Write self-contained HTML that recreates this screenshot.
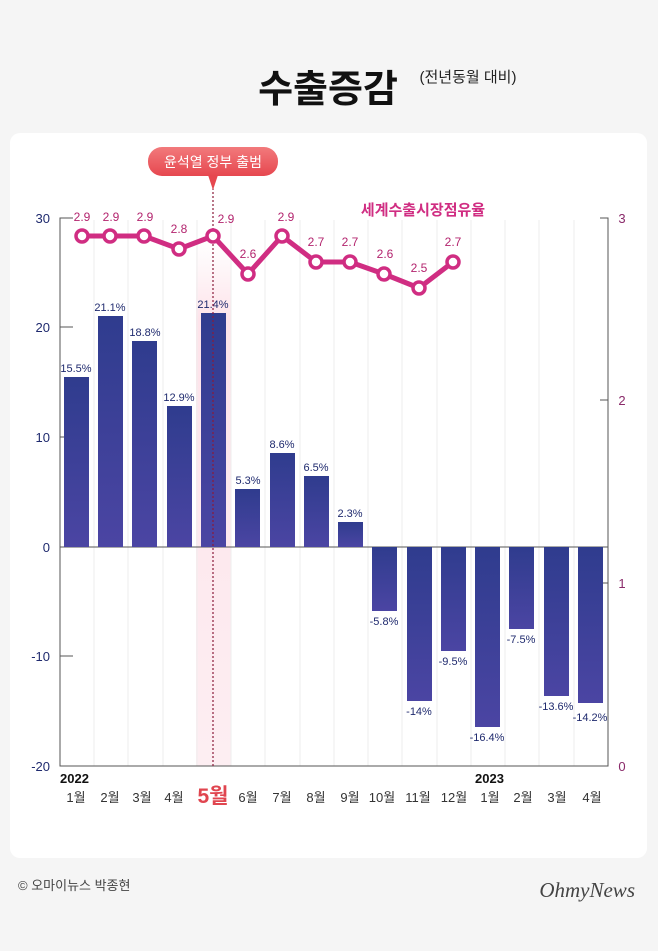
<!DOCTYPE html>
<html><head><meta charset="utf-8"><style>
body{margin:0;background:#f5f5f5;width:658px;height:946px;overflow:hidden;font-family:"Liberation Sans","Noto Sans CJK KR",sans-serif}
</style></head><body>
<svg width="658" height="946" viewBox="0 0 658 946" xmlns="http://www.w3.org/2000/svg" font-family="Liberation Sans, Noto Sans CJK KR, sans-serif">
<defs>
<linearGradient id="bg" x1="0" y1="0" x2="0" y2="1"><stop offset="0" stop-color="#2f3c8e"/><stop offset="1" stop-color="#4b45a3"/></linearGradient>
<linearGradient id="hl" x1="0" y1="0" x2="0" y2="1"><stop offset="0" stop-color="#fde8ee" stop-opacity="0"/><stop offset="0.15" stop-color="#fde3ea"/><stop offset="1" stop-color="#fdeef2"/></linearGradient>
<linearGradient id="tag" x1="0" y1="0" x2="0" y2="1"><stop offset="0" stop-color="#f27a7c"/><stop offset="1" stop-color="#e6474f"/></linearGradient>
</defs>
<rect width="658" height="946" fill="#f5f5f5"/>
<text x="328" y="102" text-anchor="middle" font-size="38" font-weight="bold" fill="#111">수출증감</text>
<text x="468" y="82" text-anchor="middle" font-size="15" fill="#222">(전년동월 대비)</text>
<rect x="10" y="133" width="637" height="725" rx="10" fill="#fff"/>
<rect x="196" y="240" width="35" height="526" fill="url(#hl)"/>
<g stroke="#eeeeee" stroke-width="1">
<line x1="94" y1="220" x2="94" y2="766"/><line x1="128" y1="220" x2="128" y2="766"/><line x1="163" y1="220" x2="163" y2="766"/><line x1="197" y1="220" x2="197" y2="766"/><line x1="231" y1="220" x2="231" y2="766"/><line x1="265" y1="220" x2="265" y2="766"/><line x1="300" y1="220" x2="300" y2="766"/><line x1="334" y1="220" x2="334" y2="766"/><line x1="368" y1="220" x2="368" y2="766"/><line x1="402" y1="220" x2="402" y2="766"/><line x1="437" y1="220" x2="437" y2="766"/><line x1="471" y1="220" x2="471" y2="766"/><line x1="505" y1="220" x2="505" y2="766"/><line x1="539" y1="220" x2="539" y2="766"/><line x1="574" y1="220" x2="574" y2="766"/>
</g>
<g stroke="#555" stroke-width="1" fill="none">
<path d="M73 218H60V766H608V218H600"/>
<line x1="60" y1="327" x2="73" y2="327"/><line x1="60" y1="437" x2="73" y2="437"/><line x1="60" y1="547" x2="608" y2="547"/><line x1="60" y1="656" x2="73" y2="656"/>
<line x1="600" y1="400" x2="608" y2="400"/><line x1="600" y1="583" x2="608" y2="583"/>
</g>
<g font-size="13" fill="#1f2a6e" text-anchor="end">
<text x="50" y="223">30</text><text x="50" y="332">20</text><text x="50" y="442">10</text><text x="50" y="552">0</text><text x="50" y="661">-10</text><text x="50" y="771">-20</text>
</g>
<g font-size="13" fill="#8a2a6a" text-anchor="middle">
<text x="622" y="223">3</text><text x="622" y="405">2</text><text x="622" y="588">1</text><text x="622" y="771">0</text>
</g>
<g fill="url(#bg)">
<rect x="64" y="377" width="25" height="170"/>
<rect x="98" y="316" width="25" height="231"/>
<rect x="132" y="341" width="25" height="206"/>
<rect x="167" y="406" width="25" height="141"/>
<rect x="201" y="313" width="25" height="234"/>
<rect x="235" y="489" width="25" height="58"/>
<rect x="270" y="453" width="25" height="94"/>
<rect x="304" y="476" width="25" height="71"/>
<rect x="338" y="522" width="25" height="25"/>
<rect x="372" y="547" width="25" height="64"/>
<rect x="407" y="547" width="25" height="154"/>
<rect x="441" y="547" width="25" height="104"/>
<rect x="475" y="547" width="25" height="180"/>
<rect x="509" y="547" width="25" height="82"/>
<rect x="544" y="547" width="25" height="149"/>
<rect x="578" y="547" width="25" height="156"/>
</g>
<g font-size="11" fill="#1f2a6e" text-anchor="middle">
<text x="76" y="372">15.5%</text><text x="110" y="311">21.1%</text><text x="145" y="336">18.8%</text><text x="179" y="401">12.9%</text><text x="213" y="308">21.4%</text><text x="248" y="484">5.3%</text><text x="282" y="448">8.6%</text><text x="316" y="471">6.5%</text><text x="350" y="517">2.3%</text>
<text x="384" y="625">-5.8%</text><text x="419" y="715">-14%</text><text x="453" y="665">-9.5%</text><text x="487" y="741">-16.4%</text><text x="521" y="643">-7.5%</text><text x="556" y="710">-13.6%</text><text x="590" y="721">-14.2%</text>
</g>
<line x1="213" y1="188" x2="213" y2="766" stroke="#8a1a3a" stroke-width="1.2" stroke-dasharray="2,2"/>
<polyline fill="none" stroke="#d02d82" stroke-width="5" stroke-linejoin="round" points="82,236 110,236 144,236 179,249 213,236 248,274 282,236 316,262 350,262 384,274 419,288 453,262"/>
<g fill="#fff" stroke="#d02d82" stroke-width="3.5">
<circle cx="82" cy="236" r="6"/><circle cx="110" cy="236" r="6"/><circle cx="144" cy="236" r="6"/><circle cx="179" cy="249" r="6"/><circle cx="213" cy="236" r="6"/><circle cx="248" cy="274" r="6"/><circle cx="282" cy="236" r="6"/><circle cx="316" cy="262" r="6"/><circle cx="350" cy="262" r="6"/><circle cx="384" cy="274" r="6"/><circle cx="419" cy="288" r="6"/><circle cx="453" cy="262" r="6"/>
</g>
<g font-size="12" fill="#b3246e" text-anchor="middle">
<text x="82" y="221">2.9</text><text x="111" y="221">2.9</text><text x="145" y="221">2.9</text><text x="179" y="233">2.8</text><text x="226" y="223">2.9</text><text x="248" y="258">2.6</text><text x="286" y="221">2.9</text><text x="316" y="246">2.7</text><text x="350" y="246">2.7</text><text x="385" y="258">2.6</text><text x="419" y="272">2.5</text><text x="453" y="246">2.7</text>
</g>
<text x="423" y="215" text-anchor="middle" font-size="15" font-weight="bold" fill="#d02d82">세계수출시장점유율</text>
<rect x="148" y="147" width="130" height="29" rx="14" fill="url(#tag)"/>
<path d="M208 175L213 190L218 175Z" fill="#e6474f"/>
<text x="213" y="167" text-anchor="middle" font-size="14" fill="#fff">윤석열 정부 출범</text>
<text x="60" y="783" font-size="13" font-weight="bold" fill="#111">2022</text>
<text x="475" y="783" font-size="13" font-weight="bold" fill="#111">2023</text>
<g font-size="13" fill="#333" text-anchor="middle">
<text x="76" y="802">1월</text><text x="110" y="802">2월</text><text x="142" y="802">3월</text><text x="174" y="802">4월</text><text x="248" y="802">6월</text><text x="282" y="802">7월</text><text x="316" y="802">8월</text><text x="350" y="802">9월</text><text x="382" y="802">10월</text><text x="418" y="802">11월</text><text x="454" y="802">12월</text><text x="490" y="802">1월</text><text x="523" y="802">2월</text><text x="557" y="802">3월</text><text x="592" y="802">4월</text>
</g>
<text x="213" y="803" text-anchor="middle" font-size="21" font-weight="bold" fill="#e0454f">5월</text>
<text x="18" y="890" font-size="13" fill="#444">© 오마이뉴스 박종현</text>
<text x="635" y="897" text-anchor="end" font-size="21" font-style="italic" font-family="Liberation Serif, serif" fill="#444">OhmyNews</text>
</svg>
</body></html>
